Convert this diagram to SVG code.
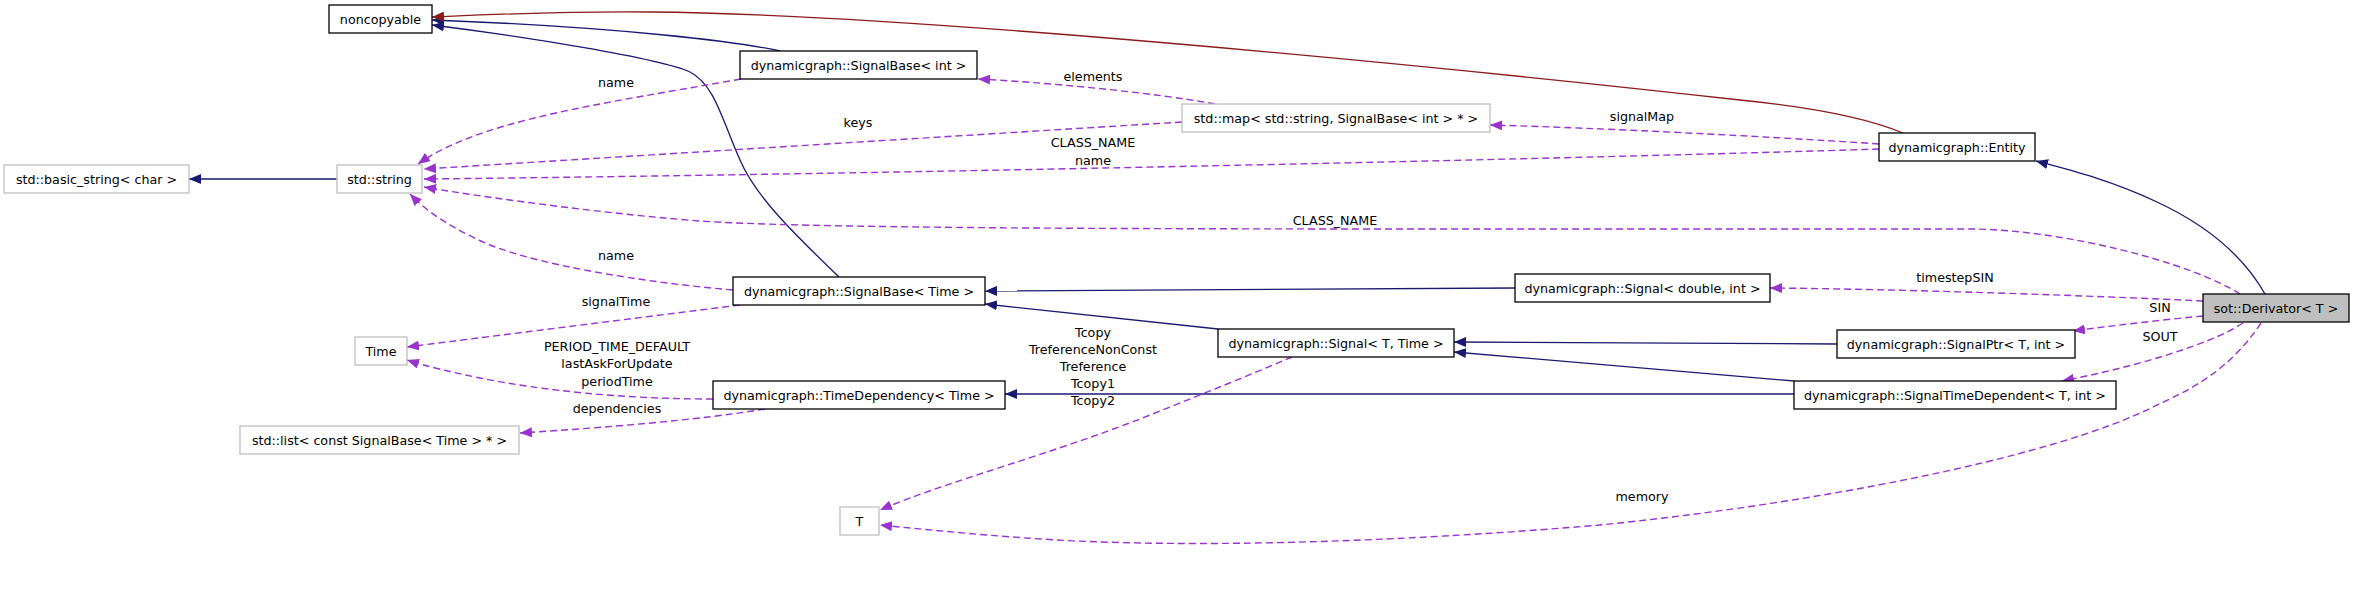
<svg xmlns="http://www.w3.org/2000/svg" width="2355" height="592" viewBox="0 0 2355 592">
<style>
text{font-family:"DejaVu Sans","Liberation Sans",sans-serif;font-size:12.7px;fill:#000;text-anchor:middle}
.doc{fill:#fff;stroke:#000;stroke-width:1.3}
.ext{fill:#fff;stroke:#bfbfbf;stroke-width:1.3}
.cur{fill:#bfbfbf;stroke:#000;stroke-width:1.3}
.inh{fill:none;stroke:#191970;stroke-width:1.3}
.priv{fill:none;stroke:#8b1a1a;stroke-width:1.3}
.use{fill:none;stroke:#9a32cd;stroke-width:1.4;stroke-dasharray:7,4}
</style>
<defs>
<marker id="aN" viewBox="0 0 12 10" refX="12" refY="5" markerWidth="12" markerHeight="10" markerUnits="userSpaceOnUse" orient="auto"><path d="M0,0 L12,5 L0,10 z" fill="#191970"/></marker>
<marker id="aR" viewBox="0 0 12 10" refX="12" refY="5" markerWidth="12" markerHeight="10" markerUnits="userSpaceOnUse" orient="auto"><path d="M0,0 L12,5 L0,10 z" fill="#8b1a1a"/></marker>
<marker id="aP" viewBox="0 0 12 10" refX="12" refY="5" markerWidth="12" markerHeight="10" markerUnits="userSpaceOnUse" orient="auto"><path d="M0,0 L12,5 L0,10 z" fill="#9a32cd"/></marker>
</defs>
<rect width="2355" height="592" fill="#fff"/>
<g id="connectors">
<path class="inh" marker-end="url(#aN)" d="M780,51 C740,42 620,27 432,20"/>
<path class="inh" marker-end="url(#aN)" d="M839,277 C790,230 755,195 740,160 C722,120 715,85 690,72 C660,58 520,36 432,25"/>
<path class="priv" marker-end="url(#aR)" d="M1903,133 C1860,115 1800,106 1740,100 C1400,62 900,14 650,12 C560,11 480,15 432,17"/>
<path class="inh" marker-end="url(#aN)" d="M2265,294 C2240,250 2200,222 2157,202 C2110,180 2070,170 2036,161"/>
<path class="inh" marker-end="url(#aN)" d="M1515,288 L985,291"/>
<path class="inh" marker-end="url(#aN)" d="M1218,329 L985,304"/>
<path class="inh" marker-end="url(#aN)" d="M1837,344 L1454,342"/>
<path class="inh" marker-end="url(#aN)" d="M1794,381 L1454,352"/>
<path class="inh" marker-end="url(#aN)" d="M1794,394 L1005,394"/>
<path class="inh" marker-end="url(#aN)" d="M337,179 L189,179"/>
<path class="use" marker-end="url(#aP)" d="M741,79 C600,104 480,120 418,164"/>
<path class="use" marker-end="url(#aP)" d="M1215,104 C1150,92 1040,82 978,79"/>
<path class="use" marker-end="url(#aP)" d="M1182,122 L424,169"/>
<path class="use" marker-end="url(#aP)" d="M1879,144 C1760,136 1600,128 1490,125"/>
<path class="use" marker-end="url(#aP)" d="M1879,149 C1600,158 900,174 424,179"/>
<path class="use" marker-end="url(#aP)" d="M2240,294 C2190,262 2060,229 1969,229 L1450,229 C1100,229 800,228 700,221 C620,215 500,200 424,187"/>
<path class="use" marker-end="url(#aP)" d="M733,290 C640,282 540,265 490,245 C450,228 425,210 410,194"/>
<path class="use" marker-end="url(#aP)" d="M740,305 L407,347"/>
<path class="use" marker-end="url(#aP)" d="M713,399 C620,399 540,390 480,378 C450,372 425,366 407,360"/>
<path class="use" marker-end="url(#aP)" d="M765,409 C700,420 600,428 520,433"/>
<path class="use" marker-end="url(#aP)" d="M2203,301 C2100,296 1900,289 1770,288"/>
<path class="use" marker-end="url(#aP)" d="M2203,316 C2160,320 2110,326 2073,331"/>
<path class="use" marker-end="url(#aP)" d="M2243,323 C2210,345 2130,368 2062,381"/>
<path class="use" marker-end="url(#aP)" d="M1292,357 C1250,375 1200,395 1150,415 C1050,455 950,480 880,510"/>
<path class="use" marker-end="url(#aP)" d="M2261,323 C2230,370 2190,390 2157,405 C2050,460 1800,505 1600,525 C1400,542 1200,548 1057,540 C990,536 930,530 880,525"/>
<text x="616" y="87">name</text>
<text x="1093" y="81">elements</text>
<text x="858" y="127">keys</text>
<text x="1642" y="121">signalMap</text>
<text x="1093" y="147">CLASS_NAME</text>
<text x="1093" y="165">name</text>
<text x="1335" y="225">CLASS_NAME</text>
<text x="616" y="260">name</text>
<text x="616" y="306">signalTime</text>
<text x="1955" y="282">timestepSIN</text>
<text x="2160" y="312">SIN</text>
<text x="2160" y="341">SOUT</text>
<text x="617" y="351">PERIOD_TIME_DEFAULT</text>
<text x="617" y="368">lastAskForUpdate</text>
<text x="617" y="386">periodTime</text>
<text x="617" y="413">dependencies</text>
<text x="1093" y="337">Tcopy</text>
<text x="1093" y="354">TreferenceNonConst</text>
<text x="1093" y="371">Treference</text>
<text x="1093" y="388">Tcopy1</text>
<text x="1093" y="405">Tcopy2</text>
<text x="1642" y="501">memory</text>
</g>
<g id="noncopyable"><rect class="doc" x="329" y="5" width="103" height="28"/><text x="380.5" y="24">noncopyable</text></g>
<g id="signalbase_int"><rect class="doc" x="740" y="51" width="237" height="28"/><text x="858.5" y="70">dynamicgraph::SignalBase&lt; int &gt;</text></g>
<g id="std_map"><rect class="ext" x="1182" y="104" width="308" height="28"/><text x="1336" y="123">std::map&lt; std::string, SignalBase&lt; int &gt; * &gt;</text></g>
<g id="entity"><rect class="doc" x="1879" y="133" width="156" height="28"/><text x="1957" y="152">dynamicgraph::Entity</text></g>
<g id="basic_string"><rect class="ext" x="4" y="165" width="185" height="28"/><text x="96.5" y="184">std::basic_string&lt; char &gt;</text></g>
<g id="std_string"><rect class="ext" x="337" y="165" width="85" height="28"/><text x="379.5" y="184">std::string</text></g>
<g id="signalbase_time"><rect class="doc" x="733" y="277" width="252" height="28"/><text x="859" y="296">dynamicgraph::SignalBase&lt; Time &gt;</text></g>
<g id="signal_double_int"><rect class="doc" x="1515" y="274" width="255" height="28"/><text x="1642.5" y="293">dynamicgraph::Signal&lt; double, int &gt;</text></g>
<g id="derivator"><rect class="cur" x="2203" y="294" width="146" height="28"/><text x="2276" y="313">sot::Derivator&lt; T &gt;</text></g>
<g id="signal_t_time"><rect class="doc" x="1218" y="329" width="236" height="28"/><text x="1336" y="348">dynamicgraph::Signal&lt; T, Time &gt;</text></g>
<g id="signalptr"><rect class="doc" x="1837" y="330" width="238" height="28"/><text x="1956" y="349">dynamicgraph::SignalPtr&lt; T, int &gt;</text></g>
<g id="time"><rect class="ext" x="355" y="337" width="52" height="28"/><text x="381" y="356">Time</text></g>
<g id="timedependency"><rect class="doc" x="713" y="381" width="292" height="28"/><text x="859" y="400">dynamicgraph::TimeDependency&lt; Time &gt;</text></g>
<g id="signaltimedependent"><rect class="doc" x="1794" y="381" width="322" height="28"/><text x="1955" y="400">dynamicgraph::SignalTimeDependent&lt; T, int &gt;</text></g>
<g id="std_list"><rect class="ext" x="240" y="426" width="279" height="28"/><text x="379.5" y="445">std::list&lt; const SignalBase&lt; Time &gt; * &gt;</text></g>
<g id="t"><rect class="ext" x="840" y="507" width="39" height="28"/><text x="859.5" y="526">T</text></g>
</svg>
